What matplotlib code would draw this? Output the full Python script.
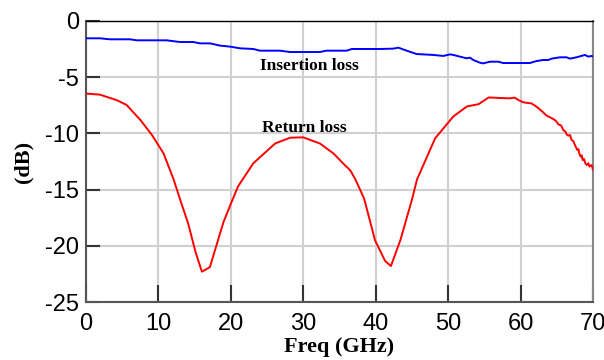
import matplotlib
matplotlib.use("Agg")
import matplotlib.pyplot as plt

# Insertion loss (blue)
ins_f = [0.0, 1.93, 3.31, 6.08, 7.0, 11.14, 12.98, 14.82, 15.74, 17.12, 18.5, 19.88,
         21.25, 23.1, 24.0, 26.8, 28.17, 32.3, 33.2, 36.0, 36.7, 40.59, 42.43, 43.12,
         44.27, 45.65, 47.95, 49.33, 50.25, 50.71, 51.63, 52.55, 53.01, 53.47, 54.39,
         54.85, 55.77, 56.92, 57.61, 61.29, 62.21, 63.13, 63.82, 64.28, 65.43, 66.35,
         66.81, 67.73, 68.88, 69.34, 69.8, 70.0]
ins_db = [-1.54, -1.54, -1.63, -1.63, -1.72, -1.72, -1.87, -1.87, -1.99, -1.99, -2.19, -2.28,
          -2.43, -2.49, -2.64, -2.64, -2.76, -2.76, -2.64, -2.64, -2.49, -2.49, -2.46, -2.37,
          -2.64, -2.94, -3.02, -3.11, -2.97, -3.02, -3.17, -3.32, -3.26, -3.47, -3.71,
          -3.77, -3.62, -3.62, -3.74, -3.74, -3.56, -3.47, -3.47, -3.35, -3.23, -3.23,
          -3.35, -3.23, -3.02, -3.17, -3.11, -3.15]

# Return loss (red)
ret_f = [0.0, 1.9, 4.2, 5.6, 7.5, 9.1, 10.7, 12.1, 13.0, 14.1, 15.1, 16.0, 17.1, 19.0, 20.1,
         21.0, 23.1, 26.1, 28.2, 30.0, 32.3, 34.2, 35.5, 36.5, 37.2, 38.4, 39.9, 41.3,
         42.1, 43.4, 45.0, 45.7, 48.2, 50.7, 52.6, 54.2, 55.6, 57.2, 58.5, 59.2, 59.7,
         60.4, 61.5, 62.2, 62.9, 63.6, 64.06, 64.52, 64.9, 65.21, 65.6, 65.9, 66.2, 66.36,
         66.59, 66.82, 67.05, 67.3, 67.5, 67.83, 68.0, 68.1, 68.3, 68.45, 68.57, 68.76,
         68.94, 69.13, 69.36, 69.5, 69.59, 69.82, 70.0]
ret_db = [-6.46, -6.55, -7.03, -7.47, -8.8, -10.14, -11.77, -14.1, -15.9, -18.0, -20.5, -22.3,
          -21.9, -17.85, -16.1, -14.7, -12.66, -10.9, -10.38, -10.35, -10.9, -11.8, -12.67,
          -13.3, -14.1, -15.8, -19.5, -21.35, -21.8, -19.5, -15.9, -14.1, -10.44, -8.5, -7.6,
          -7.4, -6.8, -6.85, -6.88, -6.82, -7.03, -7.24, -7.33, -7.62, -8.0, -8.42, -8.57,
          -8.72, -8.9, -9.19, -9.3, -9.7, -9.85, -10.09, -10.2, -10.14, -10.59, -10.7,
          -11.03, -11.48, -11.4, -11.77, -12.07, -11.95, -12.37, -12.28, -12.66, -12.81,
          -12.66, -12.95, -12.9, -12.81, -13.26]

xticks = [0, 10, 20, 30, 40, 50, 60, 70]
yticks = [0, -5, -10, -15, -20, -25]

fig = plt.figure(figsize=(6.04, 3.6), dpi=100)
ax = fig.add_axes([0.1424, 0.161, 0.8394, 0.7807])

ax.plot(ins_f, ins_db, color='#0000ff', lw=1.4, zorder=3)
ax.plot(ret_f, ret_db, color='#ff0000', lw=1.4, zorder=3)

ax.set_xlim(0, 70)
ax.set_ylim(-25, 0)
ax.set_xticks(xticks)
ax.set_yticks(yticks)
ax.set_xticklabels([str(t) for t in xticks], family='Liberation Sans', fontsize=17)
ax.set_yticklabels([str(t) for t in yticks], family='Liberation Sans', fontsize=17)
ax.grid(True, color='#d0d0d0', lw=1.5, zorder=0)
ax.set_axisbelow(True)

ax.tick_params(axis='y', direction='in', length=10, width=1.5, color='#333333', pad=5)
ax.tick_params(axis='x', direction='in', length=12, width=1.5, color='#333333', pad=8)

ax.spines['left'].set_color('#555555')
ax.spines['left'].set_linewidth(1.5)
ax.spines['bottom'].set_color('#555555')
ax.spines['bottom'].set_linewidth(1.5)
ax.spines['top'].set_color('#000000')
ax.spines['top'].set_linewidth(1.0)
ax.spines['right'].set_color('#888888')
ax.spines['right'].set_linewidth(1.5)

ax.set_xlabel('Freq (GHz)', family='Liberation Serif', fontweight='bold', fontsize=16, labelpad=1)
ax.set_ylabel('(dB)', family='Liberation Serif', fontweight='bold', fontsize=16, labelpad=8)

ax.text(30.9, -4.0, 'Insertion loss', family='Liberation Serif', fontweight='bold',
        fontsize=12.5, ha='center', va='center')
ax.text(30.2, -9.5, 'Return loss', family='Liberation Serif', fontweight='bold',
        fontsize=12.5, ha='center', va='center')

fig.savefig('out.png', dpi=100)
